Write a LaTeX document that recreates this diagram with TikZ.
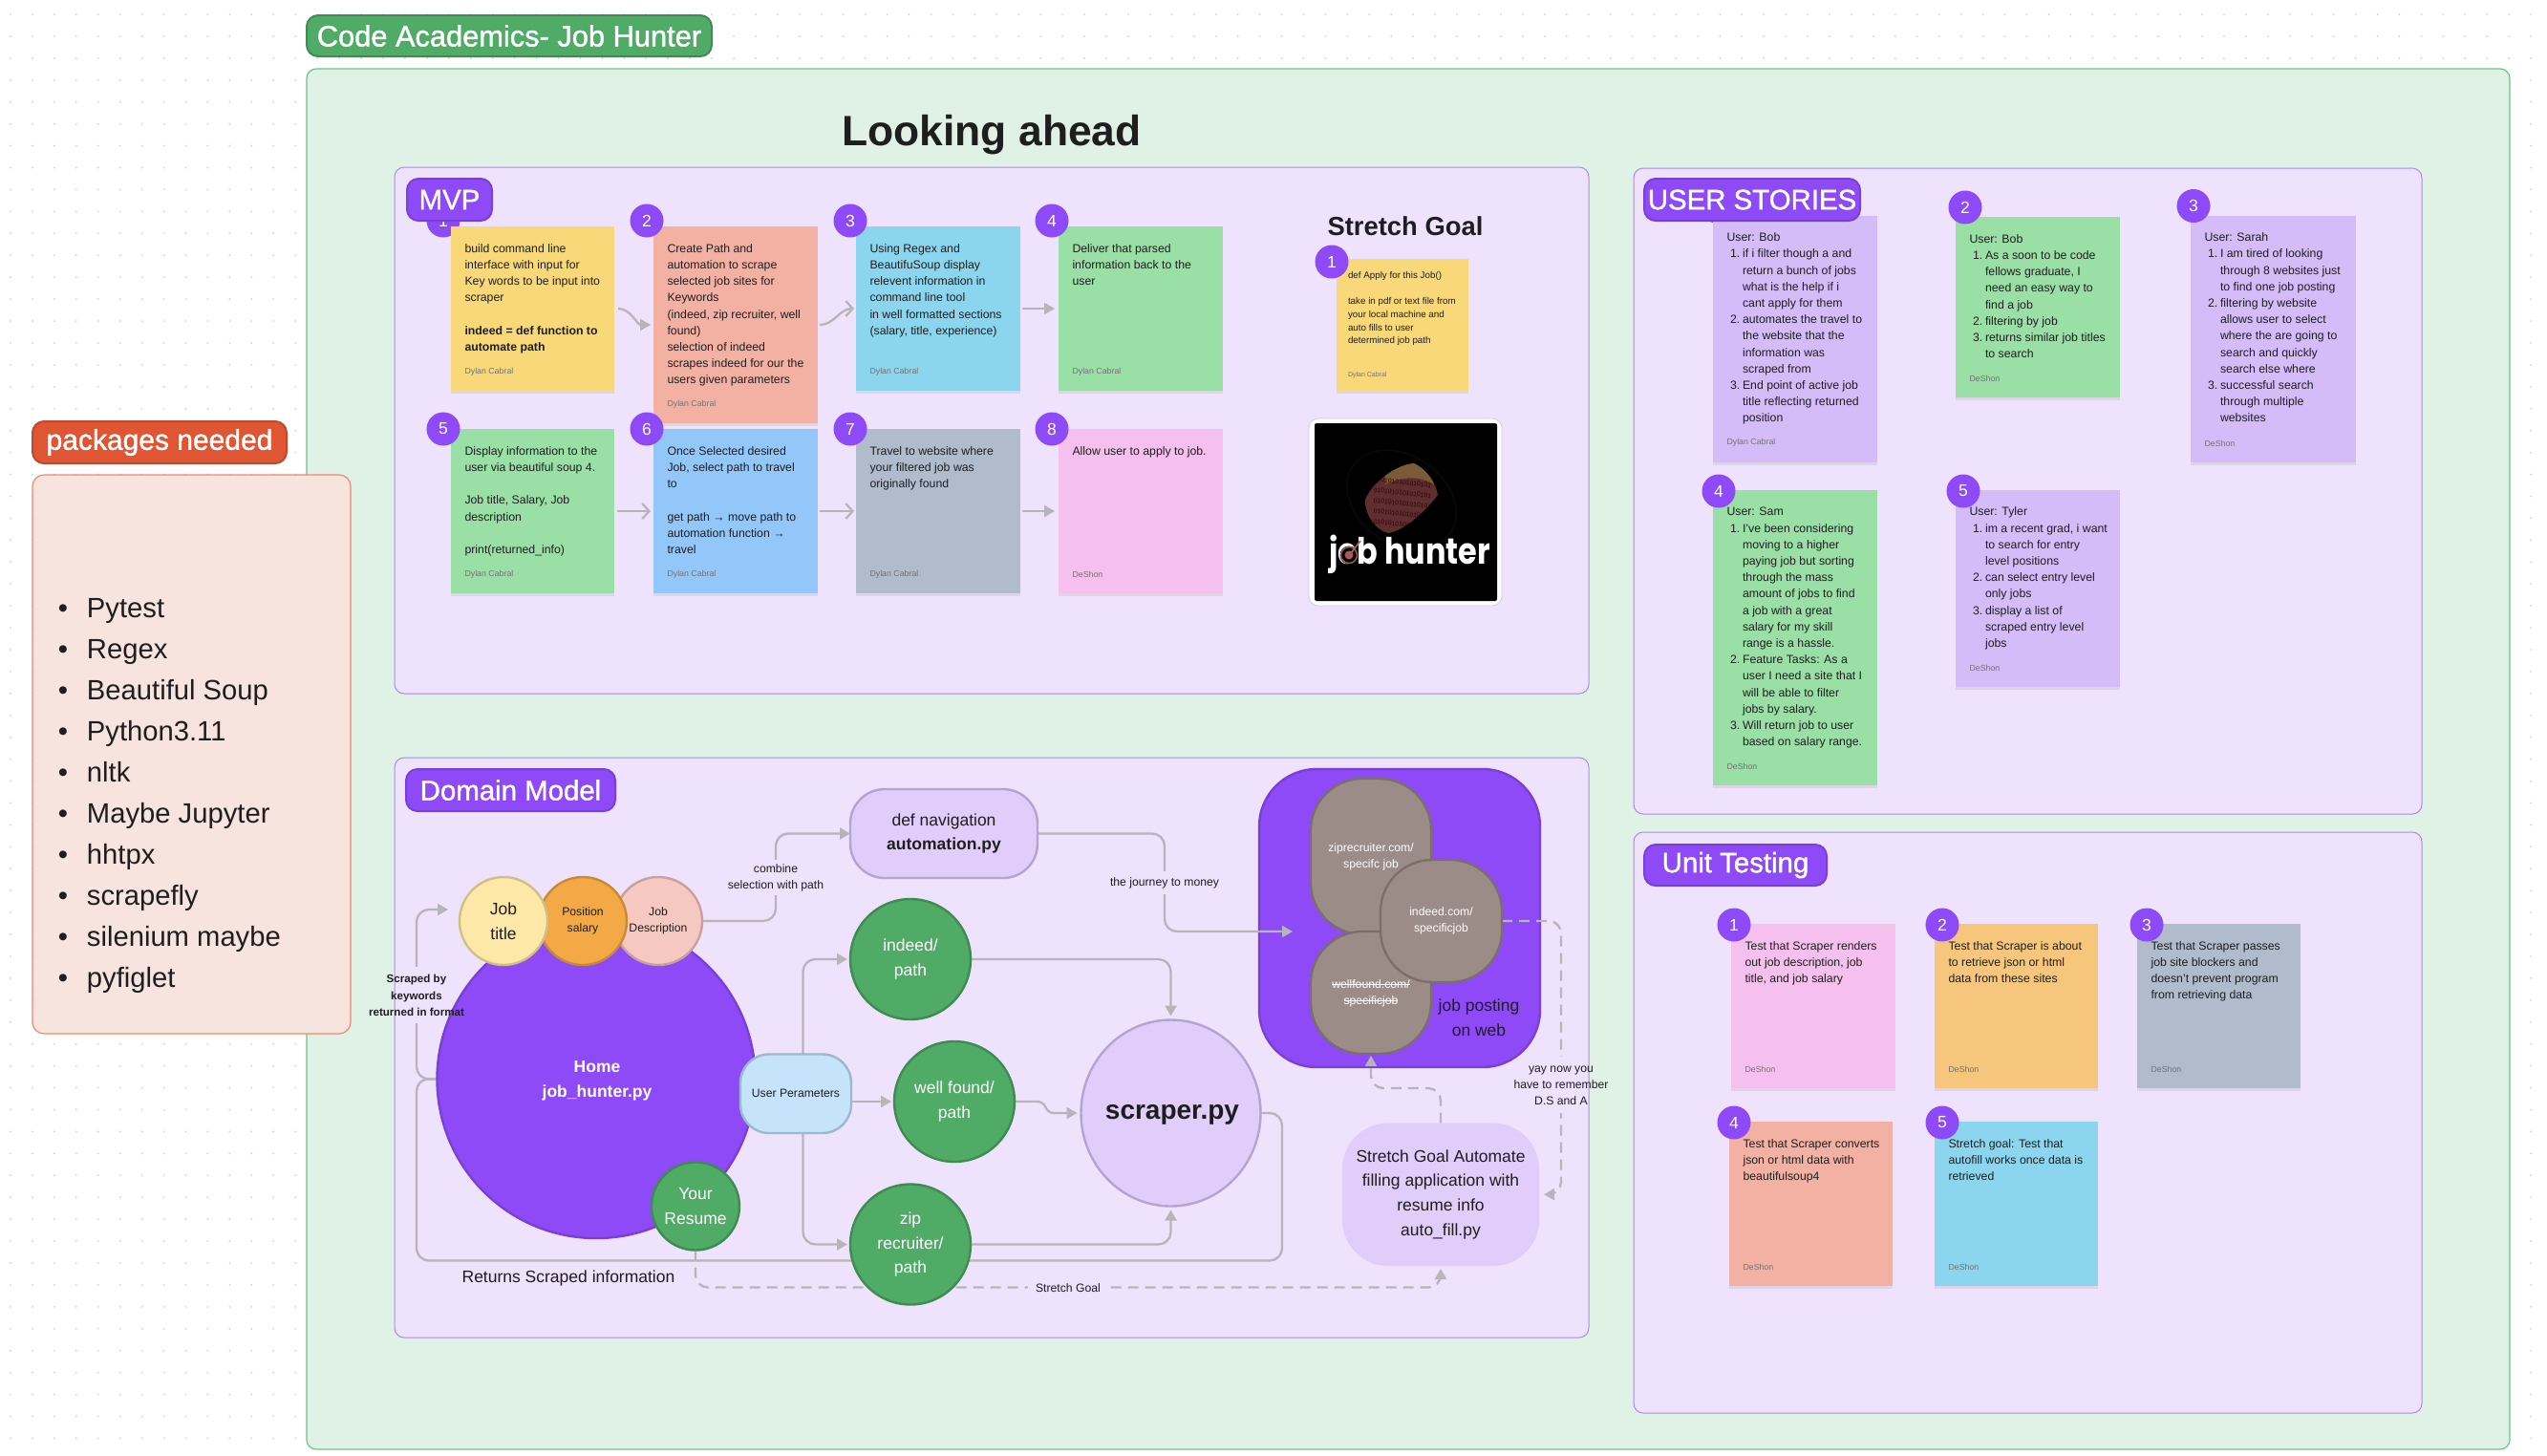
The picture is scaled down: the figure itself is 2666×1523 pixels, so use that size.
\documentclass[tikz,border=0pt]{standalone}
\usepackage{fontspec}
\usepackage{graphicx}
\setmainfont{Liberation Sans}
\newfontfamily\logofont{Poppins}
\newfontfamily\medfont[FakeBold=1.2]{Liberation Sans}
\usetikzlibrary{calc,arrows.meta,shadows,shapes.geometric}
\pgfdeclarelayer{back}\pgfdeclarelayer{conn}\pgfsetlayers{back,conn,main}
\definecolor{cpanel}{HTML}{EEE2FC}
\definecolor{cpanelb}{HTML}{AE88EE}
\definecolor{cmain}{HTML}{E0F1E6}
\definecolor{cmainb}{HTML}{6FC286}
\definecolor{cpurple}{HTML}{8D4AF6}
\definecolor{cpurpleb}{HTML}{7A3FD4}
\definecolor{cgreen}{HTML}{4FAB65}
\definecolor{cgreenb}{HTML}{3E8C52}
\definecolor{clav}{HTML}{E0CDFA}
\definecolor{clavb}{HTML}{B6A4D0}
\definecolor{cink}{HTML}{1E1E1E}
\definecolor{cconn}{HTML}{B7B5B7}
\definecolor{syellow}{HTML}{F8D878}
\definecolor{ssalmon}{HTML}{F3B1A4}
\definecolor{ssky}{HTML}{8CD5EE}
\definecolor{sgreen}{HTML}{9ADFA6}
\definecolor{sblue}{HTML}{93C6F9}
\definecolor{sgray}{HTML}{B0BCCB}
\definecolor{spink}{HTML}{F5BFEE}
\definecolor{spurple}{HTML}{D3BCF8}
\definecolor{sorange}{HTML}{F6C67C}
\definecolor{cpill}{HTML}{9C8C88}
\definecolor{cpillb}{HTML}{7C6F6B}
\definecolor{chdrr}{HTML}{E05534}
\definecolor{chdrrb}{HTML}{C04A2E}
\definecolor{cpkg}{HTML}{F7E4DE}
\definecolor{cpkgb}{HTML}{EE8A6E}
\definecolor{cjt}{HTML}{FDE8A8}
\definecolor{cjtb}{HTML}{D0C085}
\definecolor{cps}{HTML}{F2A946}
\definecolor{cpsb}{HTML}{C98A35}
\definecolor{cjd}{HTML}{F6C8C2}
\definecolor{cjdb}{HTML}{C9A09B}
\definecolor{cup}{HTML}{C5E3FB}
\definecolor{cupb}{HTML}{9DB8CF}
\definecolor{cglobe}{HTML}{5E2E30}
\definecolor{cglobet}{HTML}{7A5A38}
\definecolor{ctarget}{HTML}{A85A55}
\tikzset{
  every node/.style={inner sep=0pt,outer sep=0pt,text=cink},
  mainpanel/.style={draw=cmainb,fill=cmain,line width=.6pt,rounded corners=5pt},
  panel/.style={draw=cpanelb,fill=cpanel,line width=.5pt,rounded corners=5pt},
  hdr/.style={draw=cpurpleb,fill=cpurple,line width=1pt,rounded corners=6pt,text=white,font=\medfont\fontsize{14.7}{17}\selectfont},
  cardbox/.style={drop shadow={shadow xshift=0pt,shadow yshift=-1.6pt,opacity=.14}},
  cardtxt/.style={anchor=north west,align=left,font=\fontsize{6.15}{8.6}\selectfont},
  smalltxt/.style={anchor=north west,align=left,font=\fontsize{4.9}{6.85}\selectfont},
  authortxt/.style={anchor=west,text=black!55,font=\fontsize{4.4}{6}\selectfont},
  badgec/.style={circle,fill=cpurple,minimum size=17.5pt,text=white,font=\fontsize{8.75}{10}\selectfont},
  f17/.style={align=center,font=\fontsize{8.75}{12.9}\selectfont},
  f12/.style={align=center,font=\fontsize{6.1}{8.6}\selectfont},
  gcirc/.style={circle,draw=cgreenb,fill=cgreen,line width=1.2pt,minimum size=63pt,text=white,f17},
  tcirc/.style={circle,line width=1.2pt,minimum size=46pt},
  pill/.style={draw=cpillb,fill=cpill,line width=1.2pt,rounded corners=27pt,text=white,f12},
  conn/.style={draw=cconn,line width=1.15pt,rounded corners=6.5pt},
  tri/.style={-{Triangle[length=5.5pt,width=6pt]}},
  barb/.style={-{Straight Barb[length=3.6pt,width=8pt,line width=1.15pt]}},
  dsh/.style={dash pattern=on 5.5pt off 3.5pt},
  patchc/.style={fill=cpanel,draw=none},
}
\newcommand{\boxn}[6]{%
  \pgfmathsetmacro\mycx{(#2+#4)/2}\pgfmathsetmacro\mycy{(#3+#5)/2}%
  \pgfmathsetmacro\myw{(#4-#2)*.5}\pgfmathsetmacro\myh{(#5-#3)*.5}%
  \node[#6,minimum width=\myw pt,minimum height=\myh pt] (#1) at (\mycx,\mycy) {};}
\newcommand{\boxt}[7]{%
  \pgfmathsetmacro\mycx{(#2+#4)/2}\pgfmathsetmacro\mycy{(#3+#5)/2}%
  \pgfmathsetmacro\myw{(#4-#2)*.5}\pgfmathsetmacro\myh{(#5-#3)*.5}%
  \node[#6,minimum width=\myw pt,minimum height=\myh pt] (#1) at (\mycx,\mycy) {#7};}
\newcommand{\card}[6]{\boxn{#1}{#2}{#3}{#4}{#5}{fill=#6,cardbox}}
\newcommand{\ctext}[2]{\node[cardtxt] (#1-t) at ($(#1.north west)+(14.5,18)$) {\rule{0pt}{4.6pt}#2};}
\newcommand{\cauth}[2]{\node[authortxt] (#1-a) at ($(#1.south west)+(14.5,-20)$) {#2};}
\newcommand{\badge}[4]{\node[badgec] (#1) at (#2,#3) {#4};}
\newcommand{\nn}[1]{\makebox[8.25pt][l]{\hspace*{1.75pt}#1}}
\newcommand{\ccc}{\makebox[8.25pt]{}}
\newcommand{\strk}[1]{\setbox0=\hbox{#1}\dimen0=\wd0 \box0\kern-\dimen0\rule[.27em]{\dimen0}{.35pt}}
\newcommand{\patch}[4]{\fill[patchc] (#1,#2) rectangle (#3,#4);}
\begin{document}
\begin{tikzpicture}[x=.5pt,y=-.5pt]
\useasboundingbox (0,0) rectangle (2666,1523);
\begin{pgfonlayer}{back}
\fill[white] (0,0) rectangle (2666,1523);
% the dot grid only shows outside the main frame
\fill[black!16] foreach \i in {0,...,13}{foreach \j in {0,...,65}{({11+22.94*\i},{15+22.93*\j}) circle (1.1)}};
\fill[black!16] foreach \i in {14,...,115}{foreach \j in {0,1,2}{({11+22.94*\i},{15+22.93*\j}) circle (1.1)}};
\fill[black!16] foreach \j in {3,...,65}{({11+22.94*115},{15+22.93*\j}) circle (1.1)};
% frames
\boxn{mainp}{321}{72}{2627}{1517}{mainpanel}
\boxn{mvp}{413}{175}{1663}{726}{panel}
\boxn{dom}{413}{793}{1663}{1400}{panel}
\boxn{usr}{1710}{176}{2535}{852}{panel}
\boxn{unt}{1710}{871}{2535}{1479}{panel}
% job posting frame sits beneath the connector
\boxn{jobs}{1318}{805}{1612}{1117}{draw=cpurpleb,fill=cpurple,line width=1.2pt,rounded corners=30pt}
\end{pgfonlayer}

\boxt{title}{321}{16}{745}{59}{draw=cgreenb,fill=cgreen,line width=1pt,rounded corners=6pt,text=white,font=\medfont\fontsize{15.4}{18}\selectfont}{Code Academics- Job Hunter}
\node[font=\fontsize{22.2}{26}\selectfont\bfseries] (looking) at (1038,141) {Looking ahead};

% packages
\boxt{pkgh}{34}{441}{300}{485}{draw=chdrrb,fill=chdrr,line width=1pt,rounded corners=6pt,text=white,font=\medfont\fontsize{15}{18}\selectfont}{packages needed}
\boxn{pkg}{34}{497}{367}{1082}{draw=cpkgb,fill=cpkg,line width=.6pt,rounded corners=6pt}
\node[anchor=west,align=left,font=\fontsize{14.6}{21.5}\selectfont] (pkgl) at (61,832.5) {%
\makebox[15pt][l]{\textbullet}Pytest\\
\makebox[15pt][l]{\textbullet}Regex\\
\makebox[15pt][l]{\textbullet}Beautiful Soup\\
\makebox[15pt][l]{\textbullet}Python3.11\\
\makebox[15pt][l]{\textbullet}nltk\\
\makebox[15pt][l]{\textbullet}Maybe Jupyter\\
\makebox[15pt][l]{\textbullet}hhtpx\\
\makebox[15pt][l]{\textbullet}scrapefly\\
\makebox[15pt][l]{\textbullet}silenium maybe\\
\makebox[15pt][l]{\textbullet}pyfiglet};

% ---------- MVP ----------
\badge{mb1}{464}{231}{1}
\card{m1}{472}{237}{643}{409}{syellow}
\ctext{m1}{build command line\\interface with input for\\Key words to be input into\\scraper\\[8.6pt]\textbf{indeed = def function to}\\\textbf{automate path}}
\cauth{m1}{Dylan Cabral}
\card{m2}{684}{237}{856}{443}{ssalmon}
\ctext{m2}{Create Path and\\automation to scrape\\selected job sites for\\Keywords\\(indeed, zip recruiter, well\\found)\\selection of indeed\\scrapes indeed for our the\\users given parameters}
\cauth{m2}{Dylan Cabral}
\card{m3}{896}{237}{1068}{409}{ssky}
\ctext{m3}{Using Regex and\\BeautifuSoup display\\relevent information in\\command line tool\\in well formatted sections\\(salary, title, experience)}
\cauth{m3}{Dylan Cabral}
\card{m4}{1108}{237}{1280}{409}{sgreen}
\ctext{m4}{Deliver that parsed\\information back to the\\user}
\cauth{m4}{Dylan Cabral}
\card{m5}{472}{449}{643}{621}{sgreen}
\ctext{m5}{Display information to the\\user via beautiful soup 4.\\[8.6pt]Job title, Salary, Job\\description\\[8.6pt]print(returned\_info)}
\cauth{m5}{Dylan Cabral}
\card{m6}{684}{449}{856}{621}{sblue}
\ctext{m6}{Once Selected desired\\Job, select path to travel\\to\\[8.6pt]get path → move path to\\automation function →\\travel}
\cauth{m6}{Dylan Cabral}
\card{m7}{896}{449}{1068}{621}{sgray}
\ctext{m7}{Travel to website where\\your filtered job was\\originally found}
\cauth{m7}{Dylan Cabral}
\card{m8}{1108}{449}{1280}{621}{spink}
\ctext{m8}{Allow user to apply to job.}
\cauth{m8}{DeShon}
\badge{mb2}{677}{231}{2}\badge{mb3}{890}{231}{3}\badge{mb4}{1101}{231}{4}
\badge{mb5}{464}{449}{5}\badge{mb6}{677}{449}{6}\badge{mb7}{890}{449}{7}\badge{mb8}{1101}{449}{8}
\boxt{mvph}{426}{187}{515}{231}{hdr}{MVP}
\draw[conn,tri,shorten <=2pt,shorten >=1.5pt] (m1.east) to[out=0,in=180] (m2.west);
\draw[conn,barb,shorten <=1pt,shorten >=1pt] (m2.east) to[out=0,in=180] (m3.west);
\draw[conn,tri,shorten <=1pt,shorten >=2pt] (m3.east) -- (m4.west);
\draw[conn,barb,shorten <=1.5pt,shorten >=1.5pt] (m5.east) -- (m6.west);
\draw[conn,barb,shorten <=1pt,shorten >=1pt] (m6.east) -- (m7.west);
\draw[conn,tri,shorten <=1pt,shorten >=2pt] (m7.east) -- (m8.west);

% stretch goal + logo
\node[font=\fontsize{13.7}{16}\selectfont\bfseries] (sgt) at (1471,237) {Stretch Goal};
\card{sg}{1399}{271}{1537}{409}{syellow}
\node[smalltxt] (sg-t) at (1411,284) {\rule{0pt}{3.7pt}def Apply for this Job()\\[6.85pt]take in pdf or text file from\\your local machine and\\auto fills to user\\determined job path};
\node[authortxt,font=\fontsize{3.5}{5}\selectfont] (sg-a) at (1411,393) {Dylan Cabral};
\badge{sgb}{1394}{274}{1}
\boxn{logoo}{1370}{438}{1572}{634}{fill=white,draw=clavb!60,line width=.4pt,rounded corners=5pt}
\boxn{logo}{1376}{443}{1567}{629}{fill=black,rounded corners=1pt}
\draw[black!96!white,line width=.8pt,rotate around={-35:(1467,523)}] (1467,523) ellipse (62 and 46);
\begin{scope}
\clip (1429,523) .. controls (1436,505) and (1462,486) .. (1480,485) .. controls (1492,490) and (1503,505) .. (1505,518) .. controls (1495,532) and (1470,556) .. (1453,558) .. controls (1440,555) and (1428,538) .. (1429,523) -- cycle;
\fill[cglobe] (1420,480) rectangle (1510,560);
\fill[cglobet] (1450,480) -- (1510,480) -- (1510,512) .. controls (1490,498) and (1472,497) .. (1450,507) -- cycle;
\foreach \yy/\nm in {505/a,516/b,527/c,538/d,549/e}{
  \node[rotate=-6,text=black!78!red,font=\fontsize{3.4}{4}\selectfont] (bin\nm) at (1468,\yy) {0101010101010101};}
\end{scope}
\node[anchor=west,text=white,font=\logofont\bfseries\fontsize{19}{24}\selectfont] (logot) at (1391,580) {\scalebox{.84}[1]{job hunter}};
\fill[black] (1412,581) circle (9.5);
\draw[ctarget,line width=.7pt] (1412,581) circle (8.5);
\fill[ctarget] (1412,581) circle (4.5);
\draw[ctarget,line width=.9pt] (1414,579) -- (1424,566);

% ---------- USER STORIES ----------
\badge{ub1}{1797}{216}{1}
\card{u1}{1793}{225.5}{1965}{483.5}{spurple}
\ctext{u1}{User: Bob\\\nn{1.}if i filter though a and\\\ccc return a bunch of jobs\\\ccc what is the help if i\\\ccc cant apply for them\\\nn{2.}automates the travel to\\\ccc the website that the\\\ccc information was\\\ccc scraped from\\\nn{3.}End point of active job\\\ccc title reflecting returned\\\ccc position}
\cauth{u1}{Dylan Cabral}
\card{u2}{2047}{227}{2219}{416}{sgreen}
\ctext{u2}{User: Bob\\\nn{1.}As a soon to be code\\\ccc fellows graduate, I\\\ccc need an easy way to\\\ccc find a job\\\nn{2.}filtering by job\\\nn{3.}returns similar job titles\\\ccc to search}
\cauth{u2}{DeShon}
\card{u3}{2293}{225.5}{2466}{484}{spurple}
\ctext{u3}{User: Sarah\\\nn{1.}I am tired of looking\\\ccc through 8 websites just\\\ccc to find one job posting\\\nn{2.}filtering by website\\\ccc allows user to select\\\ccc where the are going to\\\ccc search and quickly\\\ccc search else where\\\nn{3.}successful search\\\ccc through multiple\\\ccc websites}
\cauth{u3}{DeShon}
\card{u4}{1793}{512.6}{1965}{822}{sgreen}
\ctext{u4}{User: Sam\\\nn{1.}I've been considering\\\ccc moving to a higher\\\ccc paying job but sorting\\\ccc through the mass\\\ccc amount of jobs to find\\\ccc a job with a great\\\ccc salary for my skill\\\ccc range is a hassle.\\\nn{2.}Feature Tasks: As a\\\ccc user I need a site that I\\\ccc will be able to filter\\\ccc jobs by salary.\\\nn{3.}Will return job to user\\\ccc based on salary range.}
\cauth{u4}{DeShon}
\card{u5}{2047}{512.6}{2219}{719}{spurple}
\ctext{u5}{User: Tyler\\\nn{1.}im a recent grad, i want\\\ccc to search for entry\\\ccc level positions\\\nn{2.}can select entry level\\\ccc only jobs\\\nn{3.}display a list of\\\ccc scraped entry level\\\ccc jobs}
\cauth{u5}{DeShon}
\badge{ub2}{2057}{217}{2}\badge{ub3}{2296}{215.5}{3}\badge{ub4}{1799}{514}{4}\badge{ub5}{2055}{514}{5}
\boxt{usrh}{1721}{187}{1947}{231}{hdr}{USER STORIES}

% ---------- UNIT TESTING ----------
\card{t1}{1812}{967}{1984}{1139}{spink}
\ctext{t1}{Test that Scraper renders\\out job description, job\\title, and job salary}
\cauth{t1}{DeShon}
\card{t2}{2025}{967}{2196}{1139}{sorange}
\ctext{t2}{Test that Scraper is about\\to retrieve json or html\\data from these sites}
\cauth{t2}{DeShon}
\card{t3}{2237}{967}{2408}{1139}{sgray}
\ctext{t3}{Test that Scraper passes\\job site blockers and\\doesn't prevent program\\from retrieving data}
\cauth{t3}{DeShon}
\card{t4}{1810}{1174}{1981}{1346}{ssalmon}
\ctext{t4}{Test that Scraper converts\\json or html data with\\beautifulsoup4}
\cauth{t4}{DeShon}
\card{t5}{2025}{1174}{2196}{1346}{ssky}
\ctext{t5}{Stretch goal: Test that\\autofill works once data is\\retrieved}
\cauth{t5}{DeShon}
\badge{tb1}{1815}{968}{1}\badge{tb2}{2033}{968}{2}\badge{tb3}{2247}{968}{3}\badge{tb4}{1815}{1175}{4}\badge{tb5}{2033}{1175}{5}
\boxt{unth}{1721}{884}{1912}{927}{hdr}{Unit Testing}

% ---------- DOMAIN MODEL ----------
\boxt{domh}{425}{805}{644}{849}{hdr}{Domain Model}
\node[circle,draw=cpurpleb,fill=cpurple,line width=1.2pt,minimum size=166.5pt] (home) at (624,1129.5) {};
\node[f17,text=white,font=\fontsize{8.75}{12.9}\selectfont\bfseries] (homet) at (625,1131) {Home\\job\_hunter.py};
\node[tcirc,draw=cjdb,fill=cjd,f12] (jd) at (689,964) {Job\\Description};
\node[tcirc,draw=cpsb,fill=cps,f12] (ps) at (610,964) {Position\\salary};
\node[tcirc,draw=cjtb,fill=cjt,f17] (jt) at (527,964) {Job\\title};
\node[circle,draw=cgreenb,fill=cgreen,line width=1.2pt,minimum size=46pt,text=white,f17] (res) at (728,1262.5) {Your\\Resume};
\boxt{upar}{775}{1103.5}{891}{1186}{draw=cupb,fill=cup,line width=1.2pt,rounded corners=15pt,f12}{User Perameters}
\boxt{nav}{890}{826}{1086}{919}{draw=clavb,fill=clav,line width=1.2pt,rounded corners=18pt,f17}{def navigation\\\textbf{automation.py}}
\node[gcirc] (ind) at (953,1004) {indeed/\\path};
\node[gcirc] (wf) at (999,1153) {well found/\\path};
\node[gcirc] (zip) at (953,1302.5) {zip\\recruiter/\\path};
\node[ellipse,draw=clavb,fill=clav,line width=1.2pt,minimum width=94pt,minimum height=97.5pt] (scr) at (1225.5,1165) {};
\node[font=\fontsize{14}{16}\selectfont\bfseries] (scrt) at (1227,1167) {scraper.py};
% pills
\boxt{pz}{1372}{815}{1498}{978}{pill}{}
\boxt{pw}{1372}{975}{1498}{1103}{pill}{}
\boxt{pi}{1445}{900}{1572}{1028}{pill}{indeed.com/\\specificjob}
\node[f12,text=white] (pzt) at (1435,896.5) {ziprecruiter.com/\\specifc job};
\node[f12,text=white] (pwt) at (1435,1039.5) {\strk{wellfound.com/}\\\strk{specificjob}};
\node[f17] (jpt) at (1548,1065) {job posting\\on web};
\boxt{sbx}{1405}{1175.5}{1611}{1325}{fill=clav,rounded corners=24pt,f17}{Stretch Goal Automate\\filling application with\\resume info\\auto\_fill.py}

% labels
\node[f12] (l1) at (812,918.5) {combine\\selection with path};
\node[f12,font=\fontsize{5.8}{8.6}\selectfont\bfseries] (l2) at (436,1042) {Scraped by\\keywords\\returned in format};
\node[f12] (l3) at (1219,924) {the journey to money};
\node[f12] (l4) at (1634,1136) {yay now you\\have to remember\\D.S and A};
\node[f12] (l5) at (1118,1348) {Stretch Goal};
\node[f17] (l6) at (595,1338) {Returns Scraped information};

\coordinate (jin) at (1353,975);
\coordinate (uptop) at ($(upar.north)+(7.5,0)$);
\coordinate (upbot) at ($(upar.south)+(7.5,0)$);
\begin{pgfonlayer}{conn}
\draw[conn,tri] (jd.east) -| (812,872.5) -- (nav.west);
\draw[conn,tri] (nav.east) -| (1219,975) -- (jin);
\draw[conn,tri] (home.west) -| (436,952) -- ($(jt.west)+(-12,-12)$);
\draw[conn] (scr.east) -| (1342,1319.5) -| (436,1129) -- (home.west);
\draw[conn,tri] (uptop) |- ($(ind.west)+(-3,0)$);
\draw[conn,tri] (upbot) |- ($(zip.west)+(-3,0)$);
\draw[conn,tri] (upar.east|-wf.west) -- ($(wf.west)+(-3,0)$);
\draw[conn,tri] (ind.east) -| ($(scr.north)+(0,-4)$);
\draw[conn,tri,rounded corners=3pt] (wf.east) -- (1092,1153) -- (1097,1165) -- ($(scr.west)+(-4,0)$);
\draw[conn,tri] (zip.east) -| ($(scr.south)+(0,4)$);
\draw[conn,dsh,tri] (res.south) |- (1508,1347.5) -- ($(sbx.south)+(0,3)$);
\draw[conn,dsh,tri] (pi.east) -| (1634,1250) -- ($(sbx.east)+(5,0)$);
\draw[conn,dsh,tri] (sbx.north) |- (1435,1139) -- ($(pw.south)+(0,2)$);
\patch{800}{900}{824}{937}
\patch{430}{1012}{442}{1071}
\patch{1205}{912}{1233}{936}
\patch{1625}{1106}{1643}{1165}
\patch{1076}{1338}{1160}{1358}
\end{pgfonlayer}
\end{tikzpicture}
\end{document}
